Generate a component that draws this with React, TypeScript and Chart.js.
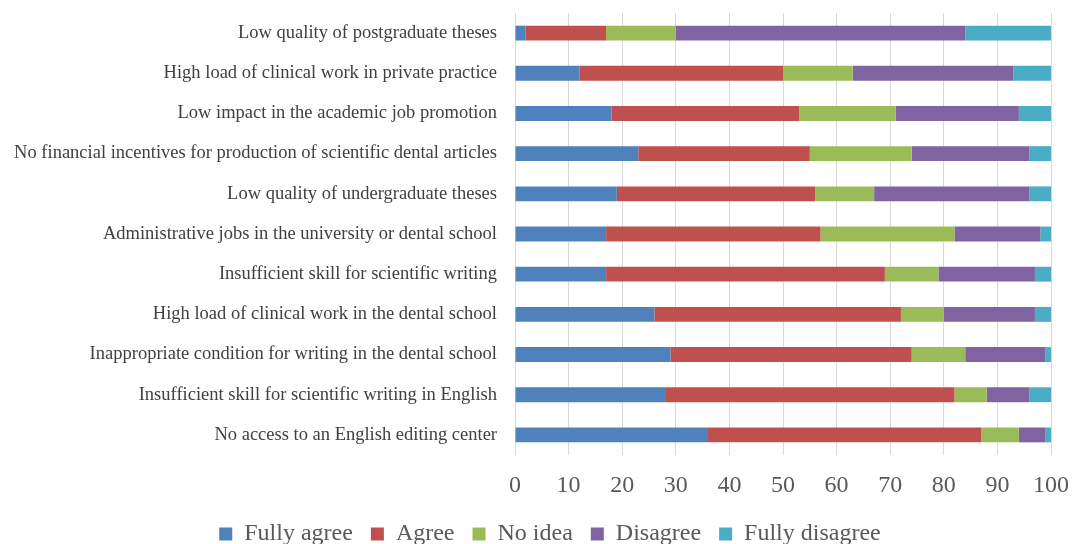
import React, { useEffect, useRef } from "react";
import { Chart, registerables } from "chart.js";

Chart.register(...registerables);

const categories = [
  "Low quality of postgraduate theses",
  "High load of clinical work in private practice",
  "Low impact in the academic job promotion",
  "No financial incentives for production of scientific dental articles",
  "Low quality of undergraduate theses",
  "Administrative jobs in the university or dental school",
  "Insufficient skill for scientific writing",
  "High load of clinical work in the dental school",
  "Inappropriate condition for writing in the dental school",
  "Insufficient skill for scientific writing in English",
  "No access to an English editing center",
];

const fullyAgree = [2, 12, 18, 23, 19, 17, 17, 26, 29, 28, 36];
const agree = [15, 38, 35, 32, 37, 40, 52, 46, 45, 54, 51];
const noIdea = [13, 13, 18, 19, 11, 25, 10, 8, 10, 6, 7];
const disagree = [54, 30, 23, 22, 29, 16, 18, 17, 15, 8, 5];
const fullyDisagree = [16, 7, 6, 4, 4, 2, 3, 3, 1, 4, 1];

const seriesNames = ["Fully agree", "Agree", "No idea", "Disagree", "Fully disagree"];
const seriesColors = ["#4f81bd", "#c0504d", "#9bbb59", "#8064a2", "#4bacc6"];

const xTicks = [0, 10, 20, 30, 40, 50, 60, 70, 80, 90, 100];

const FONT = "'Liberation Serif', 'Times New Roman', serif";

const shiftLegend = {
  id: "shiftLegend",
  afterLayout(chart: any) {
    const l = chart.legend;
    if (l) {
      l.left += 24.5;
      l.right += 24.5;
    }
  },
};

export default function App() {
  const ref = useRef<HTMLCanvasElement | null>(null);

  useEffect(() => {
    if (!ref.current) return;
    const values = [fullyAgree, agree, noIdea, disagree, fullyDisagree];
    const chart = new Chart(ref.current, {
      type: "bar",
      data: {
        labels: categories,
        datasets: values.map((v, i) => ({
          label: seriesNames[i],
          data: v,
          backgroundColor: seriesColors[i],
          borderWidth: 0,
          barPercentage: 0.37,
          categoryPercentage: 1,
        })),
      },
      plugins: [shiftLegend],
      options: {
        indexAxis: "y",
        animation: false,
        responsive: false,
        maintainAspectRatio: false,
        layout: { padding: { top: 13, right: 22, left: 0, bottom: 0 } },
        plugins: {
          tooltip: { enabled: false },
          legend: {
            position: "bottom",
            labels: {
              boxWidth: 13,
              boxHeight: 13,
              padding: 18,
              color: "#595959",
              font: { family: FONT, size: 24 },
            },
          },
        },
        scales: {
          x: {
            stacked: true,
            min: 0,
            max: 100,
            afterBuildTicks: (scale: any) => {
              scale.ticks = xTicks.map((v) => ({ value: v }));
            },
            afterFit: (scale: any) => {
              scale.height = 49;
              scale.paddingLeft = 0;
              scale.paddingRight = 0;
            },
            grid: { color: "#d9d9d9", lineWidth: 1, drawTicks: false },
            border: { display: false },
            ticks: {
              color: "#595959",
              padding: 16,
              maxRotation: 0,
              font: { family: FONT, size: 24 },
            },
          },
          y: {
            stacked: true,
            afterFit: (scale: any) => {
              scale.width = 515;
              scale.paddingTop = 0;
              scale.paddingBottom = 0;
            },
            grid: { display: false, drawTicks: false },
            border: { display: false },
            ticks: {
              color: "#404040",
              padding: 18,
              font: { family: FONT, size: 18.5 },
            },
          },
        },
      },
    });
    return () => chart.destroy();
  }, []);

  return (
    <div style={{ position: "fixed", left: 0, top: 0, width: 1073, height: 556 }}>
      <canvas ref={ref} width={1073} height={556} style={{ width: 1073, height: 556 }} />
    </div>
  );
}
